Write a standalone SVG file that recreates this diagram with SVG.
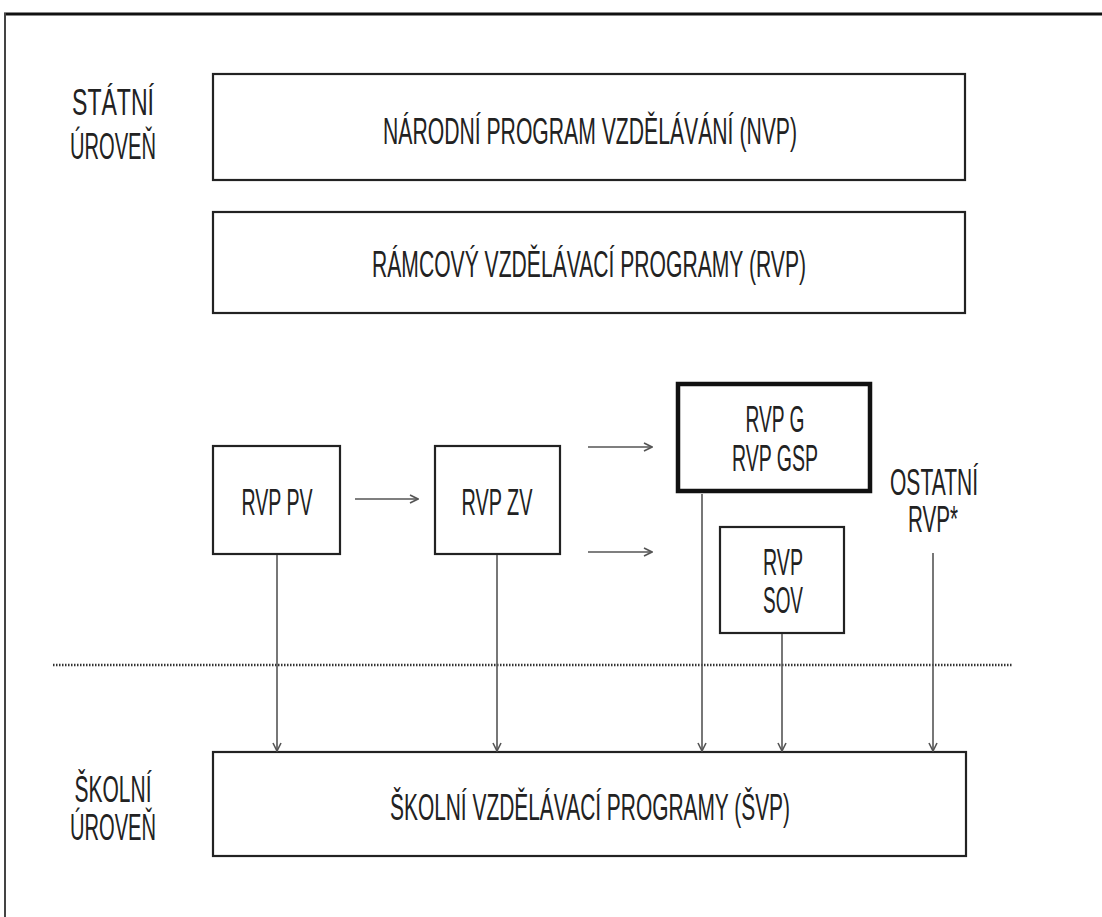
<svg xmlns="http://www.w3.org/2000/svg" width="1102" height="917" viewBox="0 0 1102 917">
<style>
.box{fill:#fff;stroke:#222;stroke-width:2.2}
.thick{fill:#fff;stroke:#111;stroke-width:4.5}
.t{font-family:"Liberation Sans",Arial,sans-serif;font-size:36px;fill:#222;text-anchor:middle}
.c{stroke:#555;stroke-width:1.6;fill:none}
</style>
<defs>
<marker id="ah" viewBox="0 0 10 10" refX="9" refY="5" markerWidth="10" markerHeight="10" markerUnits="userSpaceOnUse" orient="auto">
<path d="M1,1 L9,5 L1,9" fill="none" stroke="#555" stroke-width="1.6"/>
</marker>
</defs>
<rect width="1102" height="917" fill="#fff"/>
<g id="frame">
<line x1="4" y1="14" x2="1102" y2="14" stroke="#111" stroke-width="3"/>
<line x1="5" y1="13" x2="5" y2="917" stroke="#444" stroke-width="2"/>
</g>
<g id="labels">
<text class="t" x="113" y="115" textLength="82" lengthAdjust="spacingAndGlyphs">STÁTNÍ</text>
<text class="t" x="113" y="159" textLength="86" lengthAdjust="spacingAndGlyphs">ÚROVEŇ</text>
<text class="t" x="113" y="802" textLength="77" lengthAdjust="spacingAndGlyphs">ŠKOLNÍ</text>
<text class="t" x="113" y="840" textLength="86" lengthAdjust="spacingAndGlyphs">ÚROVEŇ</text>
</g>
<g id="nvp">
<rect class="box" x="213" y="74" width="752" height="106"/>
<text class="t" x="590" y="144" textLength="414" lengthAdjust="spacingAndGlyphs">NÁRODNÍ PROGRAM VZDĚLÁVÁNÍ (NVP)</text>
</g>
<g id="rvp">
<rect class="box" x="213" y="212" width="752" height="101"/>
<text class="t" x="589" y="277" textLength="434" lengthAdjust="spacingAndGlyphs">RÁMCOVÝ VZDĚLÁVACÍ PROGRAMY (RVP)</text>
</g>
<g id="rvp-pv">
<rect class="box" x="213" y="446" width="127" height="108"/>
<text class="t" x="277" y="515" textLength="71" lengthAdjust="spacingAndGlyphs">RVP PV</text>
</g>
<g id="rvp-zv">
<rect class="box" x="435" y="446" width="125" height="108"/>
<text class="t" x="497" y="515" textLength="71" lengthAdjust="spacingAndGlyphs">RVP ZV</text>
</g>
<g id="rvp-g">
<rect class="thick" x="678" y="384" width="192" height="107"/>
<text class="t" x="775" y="432" textLength="59" lengthAdjust="spacingAndGlyphs">RVP G</text>
<text class="t" x="775" y="471" textLength="86" lengthAdjust="spacingAndGlyphs">RVP GSP</text>
</g>
<g id="rvp-sov">
<rect class="box" x="720" y="527" width="124" height="106"/>
<text class="t" x="783" y="575" textLength="40" lengthAdjust="spacingAndGlyphs">RVP</text>
<text class="t" x="783" y="613" textLength="40" lengthAdjust="spacingAndGlyphs">SOV</text>
</g>
<g id="ostatni">
<text class="t" x="934" y="495" textLength="88" lengthAdjust="spacingAndGlyphs">OSTATNÍ</text>
<text class="t" x="933" y="532" textLength="50" lengthAdjust="spacingAndGlyphs">RVP*</text>
</g>
<g id="svp">
<rect class="box" x="213" y="752" width="753" height="104"/>
<text class="t" x="590" y="820" textLength="400" lengthAdjust="spacingAndGlyphs">ŠKOLNÍ VZDĚLÁVACÍ PROGRAMY (ŠVP)</text>
</g>
<g id="divider">
<line x1="53" y1="665" x2="1013" y2="665" stroke="#333" stroke-width="2.5" stroke-dasharray="1.5 1.5"/>
</g>
<g id="connectors">
<line class="c" x1="355" y1="499" x2="418" y2="499" marker-end="url(#ah)"/>
<line class="c" x1="588" y1="447" x2="652" y2="447" marker-end="url(#ah)"/>
<line class="c" x1="588" y1="552" x2="652" y2="552" marker-end="url(#ah)"/>
<line class="c" x1="277" y1="555" x2="277" y2="751" marker-end="url(#ah)"/>
<line class="c" x1="497" y1="555" x2="497" y2="751" marker-end="url(#ah)"/>
<line class="c" x1="702" y1="494" x2="702" y2="751" marker-end="url(#ah)"/>
<line class="c" x1="782" y1="634" x2="782" y2="751" marker-end="url(#ah)"/>
<line class="c" x1="933" y1="553" x2="933" y2="751" marker-end="url(#ah)"/>
</g>
</svg>
